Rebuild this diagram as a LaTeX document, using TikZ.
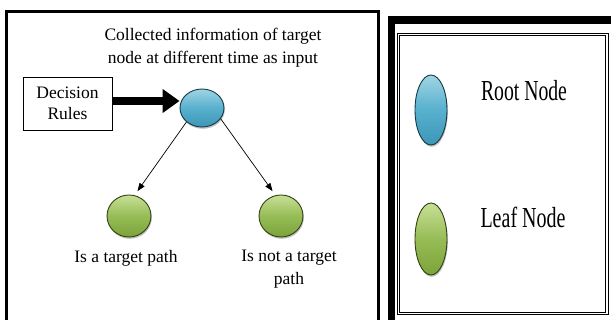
\documentclass[tikz,border=0pt]{standalone}
\usepackage{fontspec}
\usepackage{graphicx}
\setmainfont{Liberation Serif}
\usetikzlibrary{arrows.meta,shadows,calc,shapes.geometric}

\definecolor{rootTop}{RGB}{160,212,228}
\definecolor{rootMid}{RGB}{86,176,206}
\definecolor{rootBot}{RGB}{62,150,182}
\definecolor{rootLine}{RGB}{22,58,68}
\definecolor{leafTop}{RGB}{200,224,150}
\definecolor{leafMid}{RGB}{150,188,86}
\definecolor{leafBot}{RGB}{124,164,58}
\definecolor{leafLine}{RGB}{48,66,20}

\tikzset{
  txt/.style={font=\fontsize{17.5}{23}\selectfont, align=center, inner sep=0pt},
  rootball/.style={ellipse, draw=rootLine, line width=0.9pt,
    top color=rootTop, bottom color=rootBot, middle color=rootMid,
    drop shadow={shadow xshift=0.8pt, shadow yshift=-1.8pt, opacity=0.5}},
  leafball/.style={ellipse, draw=leafLine, line width=0.9pt,
    top color=leafTop, bottom color=leafBot, middle color=leafMid,
    drop shadow={shadow xshift=0.8pt, shadow yshift=-1.8pt, opacity=0.5}},
  thinarrow/.style={-{Triangle[length=8pt,width=6pt]}, line width=0.7pt},
  bigarrow/.style={-{Triangle[length=17pt,width=23pt]}, line width=7.5pt},
  legendtxt/.style={inner sep=0pt, anchor=center},
}

\begin{document}
\begin{tikzpicture}[x=1pt, y=-1pt]
  \useasboundingbox (0,0) rectangle (611,320);
  \fill[white] (0,0) rectangle (611,320);

  % left panel frame
  \draw[line width=3pt] (6.5,11.5) rectangle (378,345);

  % heading of the tree
  \node[txt] (title) at (213,47.5) {Collected information of target\\node at different time as input};

  % decision rules box
  \node[draw, line width=0.9pt, minimum width=89pt, minimum height=53pt,
        txt, font=\fontsize{17.5}{21}\selectfont] (rules) at (67.5,103.5) {Decision\\Rules};

  % tree nodes
  \node[rootball, minimum width=44pt, minimum height=38pt, inner sep=0pt] (root) at (202,108) {};
  \node[leafball, minimum width=44pt, minimum height=42pt, inner sep=0pt] (leafL) at (129,216) {};
  \node[leafball, minimum width=44pt, minimum height=42pt, inner sep=0pt] (leafR) at (281,216) {};

  % connectors
  \draw[bigarrow] ([yshift=2.5pt]rules.east) -- ([yshift=2.5pt]rules.east -| root.west);
  \draw[thinarrow, shorten >=5pt] (root.222) -- (leafL.75);
  \draw[thinarrow, shorten >=5pt] (root.330) -- (leafR.105);

  % leaf captions
  \node[txt] (capL) at (126,258) {Is a target path};
  \node[txt] (capR) at (289,269) {Is not a target\\path};

  % legend frame
  \draw[line width=7.5pt] (391.5,20) rectangle (660,360);
  \draw[double, double distance=1.6pt, line width=0.8pt] (398.5,34.5) rectangle (607,313.5);

  % legend entries
  \node[rootball, minimum width=32pt, minimum height=70pt, inner sep=0pt] (lroot) at (431,110) {};
  \node[leafball, minimum width=32pt, minimum height=72pt, inner sep=0pt] (lleaf) at (431,239) {};
  \node[legendtxt] (lrootTxt) at (524,91) {\scalebox{0.68}[1]{\fontsize{29}{30}\selectfont Root Node}};
  \node[legendtxt] (lleafTxt) at (523,217) {\scalebox{0.69}[1]{\fontsize{29}{30}\selectfont Leaf Node}};
\end{tikzpicture}
\end{document}
